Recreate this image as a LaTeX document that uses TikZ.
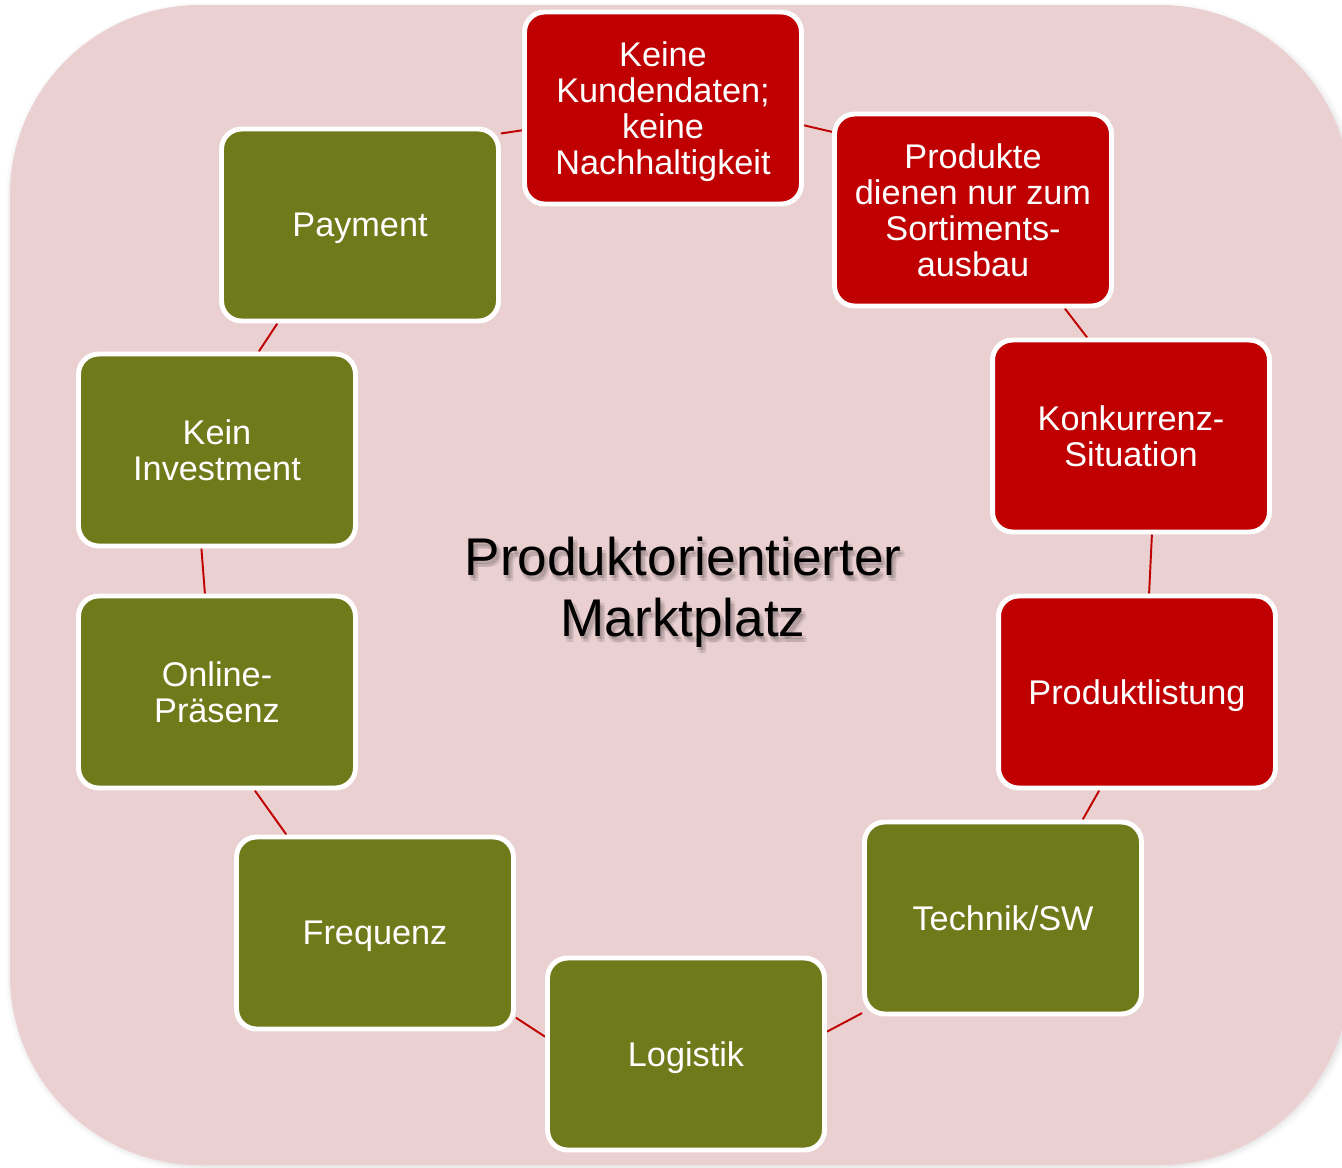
\documentclass[tikz,border=0pt]{standalone}
\usepackage{fontspec}
\setmainfont{Liberation Sans}
\definecolor{bgpink}{RGB}{235,208,209}
\definecolor{boxred}{RGB}{192,0,0}
\definecolor{boxgreen}{RGB}{111,122,27}
\definecolor{linered}{RGB}{192,0,0}
\pgfdeclarelayer{bg}
\pgfdeclarelayer{mid}
\pgfsetlayers{bg,mid,main}
\begin{document}
\begin{tikzpicture}[x=0.02cm,y=-0.02cm,
  box/.style={rectangle, rounded corners=0.4cm, draw=white, line width=2.8pt,
    minimum width=5.54cm, minimum height=3.84cm, text=white, align=center,
    font=\fontsize{19.5}{20.5}\selectfont, inner sep=2pt, text depth=0pt},
  redbox/.style={box, fill=boxred},
  greenbox/.style={box, fill=boxgreen},
  conn/.style={draw=linered, line width=1.1pt},
  titlefont/.style={font=\fontsize{30.2}{35}\selectfont, align=center, text depth=0pt}]
\useasboundingbox (0,0) rectangle (1342,1167);
\clip (0,0) rectangle (1342,1167);

\begin{pgfonlayer}{bg}
  % soft shadow of the background panel
  \foreach \s/\o in {6/0.02,4/0.03,2/0.04}{
    \fill[black, opacity=\o, rounded corners=3.9cm] (10-\s+2,5-\s+4) rectangle (1352+\s,1165+\s);
  }
  \fill[bgpink, rounded corners=3.8cm] (10,5) rectangle (1350,1165);
\end{pgfonlayer}

% title with soft shadow
\foreach \dx/\dy in {1/3,4/3,2/6,5/6}{
  \node[titlefont, text=black, opacity=0.09] at (683+\dx,587+\dy) {Produktorientierter\\Marktplatz};
}
\node[titlefont, text=black] (title) at (683,587) {Produktorientierter\\Marktplatz};

% boxes
\node[redbox] (keine) at (663,108) {Keine\\Kundendaten;\\keine\\Nachhaltigkeit};
\node[redbox] (produkte) at (973,210) {Produkte\\dienen nur zum\\Sortiments-\\ausbau};
\node[redbox] (konkurrenz) at (1131,436) {Konkurrenz-\\Situation};
\node[redbox] (listung) at (1137,692) {Produktlistung};
\node[greenbox] (technik) at (1003,918) {Technik/SW};
\node[greenbox] (logistik) at (686,1054) {Logistik};
\node[greenbox] (frequenz) at (375,933) {Frequenz};
\node[greenbox] (online) at (217,692) {Online-\\Präsenz};
\node[greenbox] (invest) at (217,450) {Kein\\Investment};
\node[greenbox] (payment) at (360,225) {Payment};

% connectors
\begin{pgfonlayer}{mid}
  \draw[conn] (keine.353) -- (produkte.151);
  \draw[conn] (produkte.313) -- (konkurrenz.114);
  \draw[conn] (konkurrenz.282) -- (listung.83);
  \draw[conn] (listung.249) -- (technik.51);
  \draw[conn] (technik.214) -- (logistik.9.5);
  \draw[conn] (logistik.173) -- (frequenz.329);
  \draw[conn] (frequenz.132) -- (online.291);
  \draw[conn] (online.97.5) -- (invest.261);
  \draw[conn] (invest.67) -- (payment.230);
  \draw[conn] (payment.33) -- (keine.189);
\end{pgfonlayer}
\end{tikzpicture}
\end{document}
